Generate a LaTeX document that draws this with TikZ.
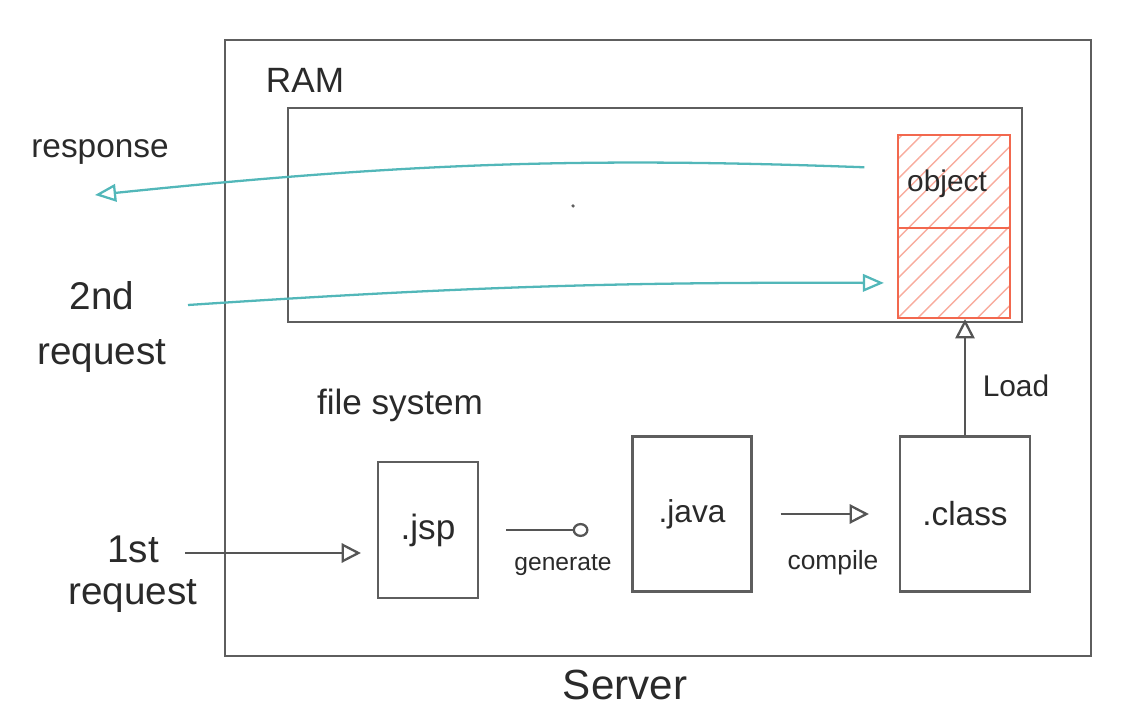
\documentclass[tikz,border=0pt]{standalone}
\usepackage{fontspec}
\setmainfont{Liberation Sans}
\usetikzlibrary{arrows.meta,patterns.meta}
\definecolor{ink}{HTML}{5E5E5E}
\definecolor{txtink}{HTML}{2A2A2A}
\definecolor{cyanink}{HTML}{52B7B9}
\definecolor{redink}{HTML}{F2684E}
\begin{document}
\begin{tikzpicture}[x=0.02cm,y=-0.02cm,
  box/.style={draw=ink,line width=1.2pt,inner sep=0pt,text=txtink},
  lbl/.style={text=txtink,align=center,inner sep=0pt},
  conn/.style={draw=txtink!80,line width=1.3pt,-{Triangle[open,length=11pt,width=11pt]}},
  gconn/.style={draw=txtink!80,line width=1.3pt,-{Circle[open,length=9pt,width=8pt]}},
  cconn/.style={draw=cyanink,line width=1.3pt,-{Triangle[open,length=12pt,width=10pt]}},
  objbox/.style={draw=redink,line width=1.3pt,minimum width=2.24cm,inner sep=0pt,
    pattern={Lines[angle=45,distance=8pt,line width=0.8pt]},pattern color=redink!55}
]
\useasboundingbox (0,0) rectangle (1130,719);

% containers
\node[box,minimum width=17.34cm,minimum height=12.32cm] (server) at (658,348) {};
\node[box,minimum width=14.68cm,minimum height=4.28cm] (ram) at (655,215) {};

% object in RAM
\node[objbox,minimum height=1.86cm] (objT) at (954,181.5) {};
\node[objbox,minimum height=1.8cm] (objB) at (954,273) {};
\node[lbl,font=\fontsize{17}{20}\selectfont] (objtxt) at (947,184) {object};

% file boxes
\node[box,minimum width=2cm,minimum height=2.72cm,font=\fontsize{20}{24}\selectfont] (jsp) at (428,530) {.jsp};
\node[box,minimum width=2.38cm,minimum height=3.1cm,font=\fontsize{18}{22}\selectfont] (java) at (692,514) {.java};
\node[box,minimum width=2.6cm,minimum height=3.1cm,font=\fontsize{19}{22}\selectfont] (cls) at (965,514) {.class};

% labels
\node[lbl,font=\fontsize{20}{24}\selectfont] (ramlbl) at (305,80) {RAM};
\node[lbl,font=\fontsize{20}{24}\selectfont] (fslbl) at (400,405) {file system};
\node[lbl,font=\fontsize{24}{28}\selectfont] (srvlbl) at (625,685) {Server};
\node[lbl,font=\fontsize{19}{22}\selectfont] (resp) at (100,152) {response};
\node[lbl,font=\fontsize{22}{31}\selectfont] (req2) at (102,327) {2nd\\request};
\node[lbl,font=\fontsize{22}{24}\selectfont] (req1) at (133,574) {1st\\request};
\node[lbl,font=\fontsize{17}{20}\selectfont] (loadlbl) at (1016,386) {Load};
\node[lbl,font=\fontsize{14}{17}\selectfont] (genlbl) at (563,565) {generate};
\node[lbl,font=\fontsize{15}{18}\selectfont] (complbl) at (833,563) {compile};

% free ends
\coordinate (r1) at (185,553);
\coordinate (r2) at (188,305);
\coordinate (rs) at (95,195);

% connectors
\draw[conn,shorten >=0.32cm] (r1) -- (r1 -| jsp.west);
\draw[gconn,shorten <=0.54cm,shorten >=0.86cm] (jsp.east) -- (jsp.east -| java.west);
\draw[conn,shorten <=0.56cm,shorten >=0.6cm] (java.east) -- (java.east -| cls.west);
\draw[conn] (cls.north) -- (objB.south -| cls.north);
\draw[cconn,shorten <=0.66cm] ([yshift=0.26cm]objT.west) to[bend right=4] (rs);
\draw[cconn,shorten >=0.26cm] (r2) to[bend left=2] ([yshift=-0.2cm]objB.west);

% stray dot
\fill[ink] (573,206) circle (1pt);
\end{tikzpicture}
\end{document}
